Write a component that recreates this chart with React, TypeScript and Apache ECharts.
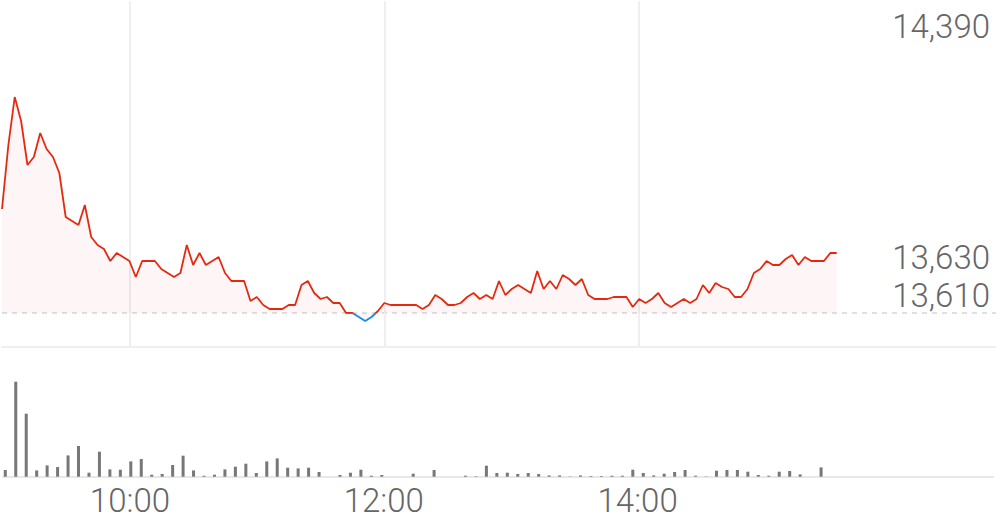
import { useEffect, useRef } from 'react';
import * as echarts from 'echarts';

// Price every 3 minutes from 09:00
const priceValues = [
  13870, 14030, 14150, 14090, 13980, 14000, 14060, 14020, 14000, 13960,
  13850, 13840, 13830, 13880, 13800, 13780, 13770, 13740, 13760, 13750,
  13740, 13700, 13740, 13740, 13740, 13720, 13710, 13700, 13710, 13780,
  13730, 13760, 13730, 13740, 13750, 13710, 13690, 13690, 13690, 13640,
  13650, 13630, 13620, 13620, 13620, 13630, 13630, 13680, 13690, 13660,
  13645, 13650, 13635, 13635, 13610, 13610, 13600, 13590, 13600, 13615,
  13635, 13630, 13630, 13630, 13630, 13630, 13620, 13630, 13655, 13645,
  13630, 13630, 13635, 13650, 13660, 13645, 13655, 13645, 13690, 13655,
  13670, 13680, 13670, 13660, 13715, 13670, 13690, 13670, 13705, 13695,
  13680, 13695, 13655, 13645, 13645, 13645, 13650, 13650, 13650, 13625,
  13645, 13635, 13645, 13660, 13635, 13625, 13635, 13645, 13635, 13645,
  13680, 13660, 13685, 13675, 13670, 13650, 13650, 13670, 13710, 13720,
  13740, 13730, 13730, 13745, 13755, 13730, 13750, 13740, 13740, 13740,
  13760, 13760,
];

// Volume every 5 minutes from 09:00
const volumeValues = [
  6700, 95000, 63000, 6300, 11300, 9700, 21300, 30700, 4000, 25000,
  7300, 7000, 15300, 17700, 2000, 2700, 11700, 21000, 6300, 1000,
  2000, 7300, 10000, 13000, 3700, 15300, 18300, 9000, 8300, 9000,
  4700, 0, 1700, 4000, 7000, 1000, 1700, 0, 0, 3000,
  0, 6700, 0, 0, 1000, 500, 11000, 3700, 4000, 2700,
  3700, 2700, 1300, 1300, 300, 1300, 700, 700, 1000, 1000,
  7000, 3700, 1300, 3000, 4700, 6700, 1000, 300, 6000, 6700,
  6700, 5000, 1700, 1000, 5000, 5700, 2300, 0, 9300,
];

const xTickLabels = ['10:00', '12:00', '14:00'];
const xTickMinutes = [60, 180, 300];

const BASE_PRICE = 13610;
const AXIS_TOP_PRICE = 14390;
const CURRENT_PRICE_LABEL = 13630;

const PRICE_STEP_MIN = 3;
const VOLUME_STEP_MIN = 5;

const fmt = (v: number) => v.toLocaleString('en-US');

const UP_COLOR = '#e5290f';
const DOWN_COLOR = '#1a86f0';

export default function App() {
  const ref = useRef<HTMLDivElement>(null);

  useEffect(() => {
    if (!ref.current) return;
    const chart = echarts.init(ref.current, null, { renderer: 'svg' });
    const priceData = priceValues.map((v, i) => [i * PRICE_STEP_MIN, v]);
    const volumeData = volumeValues.map((v, i) => [i * VOLUME_STEP_MIN, v]);
    const labelFont = '300 33px Roboto';
    const labelColor = '#666666';
    const textStyleBase = {
      font: labelFont,
      fill: labelColor,
      align: 'right',
      verticalAlign: 'middle',
      textAlign: 'right',
      textVerticalAlign: 'middle',
    };

    chart.setOption({
      animation: false,
      textStyle: { fontFamily: 'Roboto' },
      grid: [
        { left: 2, right: 0, top: 1, height: 346 },
        { left: 2, right: 0, top: 376.7, height: 100 },
      ],
      xAxis: [
        {
          gridIndex: 0,
          type: 'value',
          min: 0,
          max: 468,
          axisLine: { show: true, onZero: false, lineStyle: { color: '#efefef', width: 2 } },
          axisTick: { show: false },
          axisLabel: { show: false },
          splitLine: { show: false },
        },
        {
          gridIndex: 1,
          type: 'value',
          min: -1.1,
          max: 472.2,
          show: false,
        },
        {
          gridIndex: 1,
          type: 'value',
          position: 'bottom',
          min: 0,
          max: 468,
          interval: 60,
          axisLine: { show: true, onZero: false, lineStyle: { color: '#e8e8e8', width: 2 } },
          axisTick: { show: false },
          splitLine: { show: false },
          axisLabel: {
            show: true,
            margin: 7.5,
            fontSize: 33,
            fontWeight: 300,
            fontFamily: 'Roboto',
            color: labelColor,
            formatter: (v: number) => {
              const i = xTickMinutes.indexOf(v);
              return i >= 0 ? xTickLabels[i] : '';
            },
          },
        },
      ],
      yAxis: [
        { gridIndex: 0, type: 'value', min: 13525, max: AXIS_TOP_PRICE, show: false },
        { gridIndex: 1, type: 'value', min: 0, max: 100000, show: false },
      ],
      visualMap: {
        type: 'piecewise',
        show: false,
        seriesIndex: 0,
        dimension: 1,
        pieces: [
          { lte: BASE_PRICE, color: DOWN_COLOR },
          { gt: BASE_PRICE, lte: AXIS_TOP_PRICE, color: UP_COLOR },
        ],
        outOfRange: { color: UP_COLOR },
      },
      series: [
        {
          type: 'line',
          xAxisIndex: 0,
          yAxisIndex: 0,
          data: priceData,
          symbol: 'none',
          silent: true,
          z: 3,
          lineStyle: { width: 1.8 },
          areaStyle: { origin: BASE_PRICE, color: 'rgba(232,48,70,0.07)' },
          markLine: {
            silent: true,
            symbol: 'none',
            z: 1,
            label: { show: false },
            emphasis: { disabled: true },
            data: [
              { yAxis: BASE_PRICE, lineStyle: { color: '#d6d6d6', type: [5, 5], width: 1.5 } },
              ...xTickMinutes.map((m) => ({
                xAxis: m,
                lineStyle: { color: '#efefef', type: 'solid', width: 2 },
              })),
            ],
          },
        },
        {
          type: 'bar',
          xAxisIndex: 1,
          yAxisIndex: 1,
          data: volumeData,
          barWidth: 3,
          silent: true,
          itemStyle: { color: '#777777' },
        },
      ],
      graphic: [
        { type: 'text', x: 990, y: 26.5, style: { ...textStyleBase, text: fmt(AXIS_TOP_PRICE) } },
        { type: 'text', x: 990, y: 257, style: { ...textStyleBase, text: fmt(CURRENT_PRICE_LABEL) } },
        { type: 'text', x: 990, y: 295, style: { ...textStyleBase, text: fmt(BASE_PRICE) } },
      ],
    });

    return () => chart.dispose();
  }, []);

  return (
    <div
      ref={ref}
      style={{ position: 'absolute', left: 0, top: 0, width: 996, height: 519 }}
    />
  );
}
